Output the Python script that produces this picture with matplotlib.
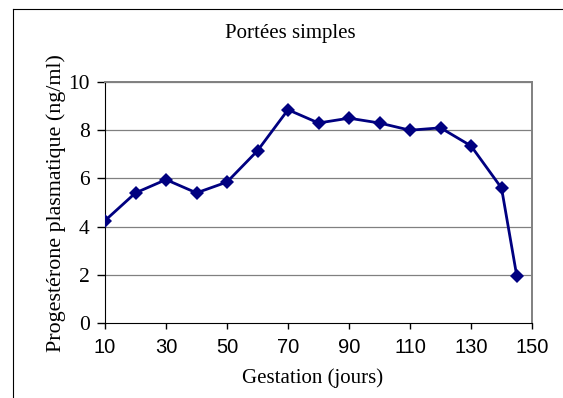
import matplotlib
matplotlib.use("Agg")
import matplotlib.pyplot as plt
from matplotlib.lines import Line2D

# data
jours = [10, 20, 30, 40, 50, 60, 70, 80, 90, 100, 110, 120, 130, 140, 145]
progesterone = [4.25, 5.4, 5.95, 5.4, 5.85, 7.15, 8.85, 8.3, 8.5, 8.3, 8.0, 8.1, 7.35, 5.6, 1.95]
x_ticks = [10, 30, 50, 70, 90, 110, 130, 150]
y_ticks = [0, 2, 4, 6, 8, 10]

SERIF = "Liberation Serif"
SANS = "Liberation Sans"

fig = plt.figure(figsize=(5.63, 3.98), dpi=100)
ax = fig.add_axes([0.1865, 0.1884, 0.7585, 0.6055])

for y in y_ticks[1:]:
    ax.axhline(y, color="#808080", linewidth=0.9, zorder=1)

ax.plot(jours, progesterone, color="#000080", linewidth=2,
        marker="D", markersize=7.2, markeredgewidth=0, zorder=3)

ax.set_xlim(10, 150)
ax.set_ylim(0, 10)
ax.set_xticks(x_ticks)
ax.set_yticks(y_ticks)
ax.set_xticklabels([str(v) for v in x_ticks], fontfamily=SANS, fontsize=14.5)
ax.set_yticklabels([str(v) for v in y_ticks], fontfamily=SERIF, fontsize=15.5)
ax.tick_params(axis="x", direction="out", length=4.5, width=1, color="black", pad=6)
ax.tick_params(axis="y", direction="out", length=6, width=1, color="black", pad=5)

ax.spines["left"].set_color("black")
ax.spines["bottom"].set_color("black")
ax.spines["right"].set_color("#808080")
ax.spines["top"].set_color("#808080")
ax.spines["right"].set_linewidth(1.4)
ax.spines["top"].set_linewidth(1.4)

fig.text(0.515, 0.917, "Portées simples", ha="center", va="center",
         fontfamily=SERIF, fontsize=15)
fig.text(0.556, 0.05, "Gestation (jours)", ha="center", va="center",
         fontfamily=SERIF, fontsize=15)
fig.text(0.099, 0.491, "Progestérone plasmatique (ng/ml)", ha="center", va="center",
         rotation=90, fontfamily=SERIF, fontsize=15.8)

# outer chart frame (cut off at right/bottom)
fx = 12.5 / 563
fy = 1 - 8.5 / 398
fig.add_artist(Line2D([fx, fx], [0, fy], transform=fig.transFigure, color="black", linewidth=0.8))
fig.add_artist(Line2D([fx, 1], [fy, fy], transform=fig.transFigure, color="black", linewidth=0.8))

fig.savefig("out.png", dpi=100)
